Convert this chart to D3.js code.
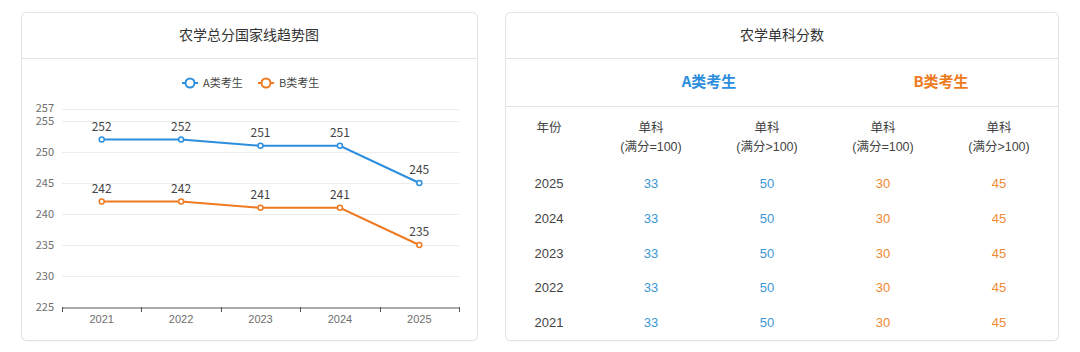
<!DOCTYPE html>
<html><head><meta charset="utf-8">
<script src="https://cdn.jsdelivr.net/npm/d3@7"></script>
<style>
html,body{margin:0;padding:0;background:#fff;}
svg{display:block;font-family:"Noto Sans CJK SC","Microsoft YaHei",sans-serif;}
.tbl{font-family:"Liberation Sans","Noto Sans CJK SC",sans-serif;}
</style></head>
<body>
<svg id="c" width="1080" height="352"></svg>
<script>
const years = ["2021","2022","2023","2024","2025"];
const seriesA = [252,252,251,251,245];
const seriesB = [242,242,241,241,235];
const seriesNames = ["A类考生","B类考生"];
const yTicks = [225,230,235,240,245,250,255,257];
const chartTitle = "农学总分国家线趋势图";
const tableTitle = "农学单科分数";
const tableYears = ["2025","2024","2023","2022","2021"];
const colHeadTop = ["年份","单科","单科","单科","单科"];
const colHeadBottom = ["","(满分=100)","(满分>100)","(满分=100)","(满分>100)"];
const aSingle100 = [33,33,33,33,33];
const aSingleOver = [50,50,50,50,50];
const bSingle100 = [30,30,30,30,30];
const bSingleOver = [45,45,45,45,45];

const blue = "#2c8edd", orange = "#ee7b22";
const blueT = "#3b98d6", orangeT = "#ef8a34";
const svg = d3.select("#c");

function card(x,y,w,h){
  svg.append("rect").attr("x",x+0.5).attr("y",y+1.5).attr("width",w).attr("height",h)
    .attr("rx",5).attr("fill","#f0f0f0");
  svg.append("rect").attr("x",x+0.5).attr("y",y+0.5).attr("width",w).attr("height",h)
    .attr("rx",5).attr("fill","#fff").attr("stroke","#e3e3e3");
}
// Left card
card(21,12,456,328);
svg.append("line").attr("x1",22).attr("x2",477).attr("y1",58.5).attr("y2",58.5).attr("stroke","#e3e3e3");
svg.append("text").attr("x",249).attr("y",40).attr("text-anchor","middle")
  .attr("font-size",14).attr("fill","#333").text(chartTitle);

const x = d3.scaleBand().domain(years).range([62,459]);
const y = d3.scaleLinear().domain([225,257]).range([307,108.6]);

// grid
svg.append("g").selectAll("line").data(yTicks.filter(d=>d!==225)).join("line")
  .attr("x1",62).attr("x2",459).attr("y1",d=>Math.round(y(d))+0.5).attr("y2",d=>Math.round(y(d))+0.5)
  .attr("stroke","#ececec");
// y labels
svg.append("g").selectAll("text").data(yTicks).join("text")
  .attr("x",54).attr("y",d=>y(d)+(d===257?3:4)).attr("text-anchor","end")
  .attr("font-size",11).attr("fill","#6e6e6e").text(d=>d);
// x axis
const xAxis = d3.axisBottom(x).tickSize(0).tickPadding(8);
const gx = svg.append("g").attr("transform","translate(0,307.5)").call(xAxis);
gx.select(".domain").attr("stroke","#555");
gx.selectAll("text").attr("font-size",11).attr("fill","#6e6e6e").attr("font-family","inherit");
svg.append("g").selectAll("line").data(years.concat(["end"])).join("line")
  .attr("x1",(d,i)=>Math.round(62+i*x.bandwidth())+0.5).attr("x2",(d,i)=>Math.round(62+i*x.bandwidth())+0.5)
  .attr("y1",307).attr("y2",312).attr("stroke","#555");

const cx = d=>x(d)+x.bandwidth()/2;
[[seriesA,blue],[seriesB,orange]].forEach(([vals,col])=>{
  const data = years.map((yr,i)=>({yr,v:vals[i]}));
  svg.append("path").datum(data).attr("fill","none").attr("stroke",col).attr("stroke-width",2)
    .attr("d",d3.line().x(d=>cx(d.yr)).y(d=>y(d.v)));
  svg.append("g").selectAll("circle").data(data).join("circle")
    .attr("cx",d=>cx(d.yr)).attr("cy",d=>y(d.v)).attr("r",2.5)
    .attr("fill","#fff").attr("stroke",col).attr("stroke-width",1.5);
  svg.append("g").selectAll("text").data(data).join("text")
    .attr("x",d=>cx(d.yr)).attr("y",d=>y(d.v)-9).attr("text-anchor","middle")
    .attr("font-size",12).attr("fill","#444").text(d=>d.v);
});

// legend
const leg = [[seriesNames[0],blue,182],[seriesNames[1],orange,258]];
leg.forEach(([name,col,lx])=>{
  svg.append("line").attr("x1",lx).attr("x2",lx+16).attr("y1",83).attr("y2",83).attr("stroke",col).attr("stroke-width",2);
  svg.append("circle").attr("cx",lx+8).attr("cy",83).attr("r",4.5).attr("fill","#fff").attr("stroke",col).attr("stroke-width",2);
  svg.append("text").attr("x",lx+21).attr("y",87).attr("font-size",11).attr("fill","#444").text(name);
});

// Right card
card(505,12,553,328);
svg.append("line").attr("x1",506).attr("x2",1058).attr("y1",58.5).attr("y2",58.5).attr("stroke","#e3e3e3");
svg.append("line").attr("x1",506).attr("x2",1058).attr("y1",106.5).attr("y2",106.5).attr("stroke","#e3e3e3");
svg.append("text").attr("x",782).attr("y",40).attr("text-anchor","middle")
  .attr("font-size",14).attr("fill","#333").text(tableTitle);
svg.append("text").attr("x",709).attr("y",87).attr("text-anchor","middle")
  .attr("font-size",15).attr("font-weight","bold").attr("fill",blue).text(seriesNames[0]);
svg.append("text").attr("x",941).attr("y",87).attr("text-anchor","middle")
  .attr("font-size",15).attr("font-weight","bold").attr("fill",orange).text(seriesNames[1]);

const colX = [549,651,767,883,999];
colHeadTop.forEach((t,i)=>{
  svg.append("text").attr("class","tbl").attr("x",colX[i]).attr("y",132).attr("text-anchor","middle")
    .attr("font-size",12.5).attr("fill","#444").text(t);
  if(colHeadBottom[i]) svg.append("text").attr("class","tbl").attr("x",colX[i]).attr("y",151).attr("text-anchor","middle")
    .attr("font-size",12.5).attr("fill","#444").text(colHeadBottom[i]);
});
const rowY = d3.scalePoint().domain(tableYears).range([183,322]);
const cols = [[tableYears,"#444"],[aSingle100,blueT],[aSingleOver,blueT],[bSingle100,orangeT],[bSingleOver,orangeT]];
cols.forEach(([vals,col],ci)=>{
  svg.append("g").selectAll("text").data(tableYears).join("text").attr("class","tbl")
    .attr("x",colX[ci]).attr("y",d=>rowY(d)+5).attr("text-anchor","middle")
    .attr("font-size",13).attr("fill",col).text((d,i)=>vals[i]);
});
</script>
</body></html>
